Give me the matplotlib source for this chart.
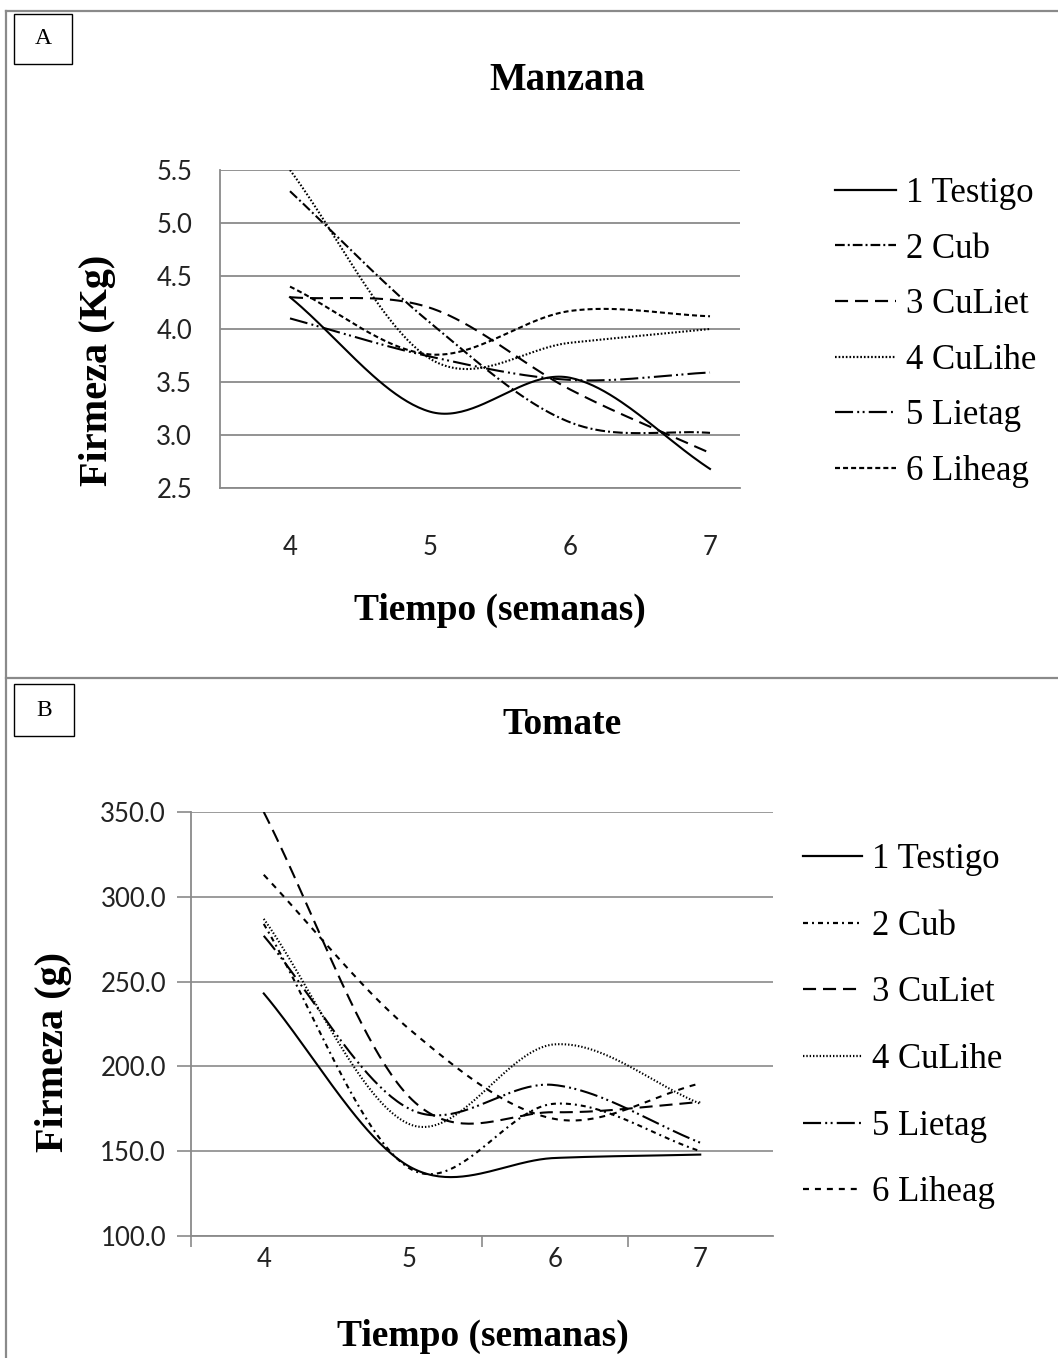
import numpy as np
import matplotlib
matplotlib.use("Agg")
import matplotlib.pyplot as plt
from matplotlib.patches import Rectangle
from matplotlib.lines import Line2D

plt.rcParams['lines.scale_dashes'] = False

# ---------------- data ----------------
weeks = [4, 5, 6, 7]
series_names = ["1 Testigo", "2 Cub", "3 CuLiet", "4 CuLihe", "5 Lietag", "6 Liheag"]

# Panel A: Manzana, firmeza (Kg)
manzana_testigo = [4.30, 3.22, 3.54, 2.68]
manzana_cub     = [5.30, 4.06, 3.12, 3.02]
manzana_culiet  = [4.30, 4.20, 3.43, 2.83]
manzana_culihe  = [5.50, 3.72, 3.87, 4.00]
manzana_lietag  = [4.10, 3.74, 3.52, 3.59]
manzana_liheag  = [4.40, 3.76, 4.17, 4.12]

# Panel B: Tomate, firmeza (g)
tomate_testigo = [243.0, 141.0, 146.0, 148.0]
tomate_cub     = [284.0, 140.0, 178.0, 150.0]
tomate_culiet  = [350.0, 182.0, 173.0, 179.0]
tomate_culihe  = [287.0, 166.0, 213.0, 178.0]
tomate_lietag  = [277.0, 175.0, 189.0, 155.0]
tomate_liheag  = [313.0, 222.0, 169.0, 190.0]

yticks_a = [2.5, 3.0, 3.5, 4.0, 4.5, 5.0, 5.5]
yticks_b = [100.0, 150.0, 200.0, 250.0, 300.0, 350.0]

# ---------------- styles ----------------
styles_a = [
    dict(ls='-'),
    dict(ls=(0, (7, 2.2, 1.4, 2.2))),
    dict(ls=(0, (9.4, 5))),
    dict(ls=(0, (1.2, 1.4))),
    dict(ls=(0, (13, 3, 1.4, 2.5, 1.4, 3))),
    dict(ls=(0, (3.6, 2.2))),
]
styles_b = [
    dict(ls='-'),
    dict(ls=(0, (3.6, 2.9, 1.4, 2.9))),
    dict(ls=(0, (9.4, 5))),
    dict(ls=(0, (1.0, 1.4))),
    dict(ls=(0, (13, 3, 1.4, 2.5, 1.4, 3))),
    dict(ls=(0, (4.3, 4.3))),
]

W, H = 1058, 1358
GRAY = '#8a8a8a'
SERIF = ['Liberation Serif', 'DejaVu Serif']
SANS = ['Lato', 'DejaVu Sans']


def smooth(x, y, n=50):
    """Excel-like smoothed line (Catmull-Rom / cubic Hermite)."""
    x = np.asarray(x, float)
    y = np.asarray(y, float)
    m = len(y)
    t = np.zeros(m)
    t[1:-1] = (y[2:] - y[:-2]) / 2.0
    t[0] = y[1] - y[0]
    t[-1] = y[-1] - y[-2]
    xs, ys = [], []
    s = np.linspace(0, 1, n)
    h00 = 2 * s**3 - 3 * s**2 + 1
    h10 = s**3 - 2 * s**2 + s
    h01 = -2 * s**3 + 3 * s**2
    h11 = s**3 - s**2
    for i in range(m - 1):
        xs.append(x[i] + s * (x[i + 1] - x[i]))
        ys.append(h00 * y[i] + h10 * t[i] + h01 * y[i + 1] + h11 * t[i + 1])
    return np.concatenate(xs), np.concatenate(ys)


def ax_rect(left, top, right, bottom):
    return [left / W, 1 - bottom / H, (right - left) / W, (bottom - top) / H]


fig = plt.figure(figsize=(W / 100, H / 100), dpi=100)

# frame lines
fig.add_artist(Line2D([6 / W, 6 / W], [0, 1 - 11 / H], color=GRAY, lw=1.6))
fig.add_artist(Line2D([6 / W, 1], [1 - 11 / H, 1 - 11 / H], color=GRAY, lw=1.6))
fig.add_artist(Line2D([6 / W, 1], [1 - 678 / H, 1 - 678 / H], color=GRAY, lw=1.6))

# panel letter boxes
for lab, (x0, y0, x1, y1) in [("A", (14, 14, 72, 64)), ("B", (14, 684, 74, 736))]:
    fig.add_artist(Rectangle((x0 / W, 1 - y1 / H), (x1 - x0) / W, (y1 - y0) / H,
                             transform=fig.transFigure, fill=False, ec='black', lw=1.0))
    fig.text((x0 + x1) / 2 / W, 1 - (y0 + y1) / 2 / H, lab, ha='center', va='center',
             family=SERIF, fontsize=17)

# ---------------- Panel A ----------------
# plot area from x=220 to x=740 px, category spacing 140 px
axA = fig.add_axes(ax_rect(220, 170, 740, 488))
data_a = [manzana_testigo, manzana_cub, manzana_culiet, manzana_culihe, manzana_lietag, manzana_liheag]
for name, vals, st in zip(series_names, data_a, styles_a):
    xs, ys = smooth(weeks, vals)
    axA.plot(xs, ys, color='black', lw=1.5, label=name, **st)
axA.set_xlim(3.5, 3.5 + 520 / 140)
axA.set_ylim(2.5, 5.5)
axA.set_yticks(yticks_a)
axA.set_yticklabels([f"{v:.1f}" for v in yticks_a])
axA.set_xticks(weeks)
axA.set_xticklabels([str(w) for w in weeks])
axA.tick_params(axis='both', length=0, labelsize=18.5, colors='#222222')
axA.tick_params(axis='y', pad=20)
axA.tick_params(axis='x', pad=34)
for lbl in axA.get_xticklabels() + axA.get_yticklabels():
    lbl.set_family(SANS)
axA.grid(axis='y', color=GRAY, lw=1.3)
axA.set_axisbelow(True)
for sp in ['top', 'right']:
    axA.spines[sp].set_visible(False)
for sp in ['left', 'bottom']:
    axA.spines[sp].set_color(GRAY)
    axA.spines[sp].set_linewidth(1.3)

fig.text(567 / W, 1 - 81 / H, "Manzana", ha='center', va='center', family=SERIF,
         fontsize=28, fontweight='bold')
fig.text(97 / W, 1 - 370 / H, "Firmeza (Kg)", ha='center', va='center', rotation=90,
         family=SERIF, fontsize=29, fontweight='bold')
fig.text(500 / W, 1 - 610 / H, "Tiempo (semanas)", ha='center', va='center', family=SERIF,
         fontsize=27, fontweight='bold')

legA = axA.legend(loc='upper left', bbox_to_anchor=(835 / W, 1 - 177 / H),
                  bbox_transform=fig.transFigure, frameon=False, borderpad=0,
                  borderaxespad=0, handlelength=1.75, handletextpad=0.3,
                  labelspacing=0.65, prop=dict(family=SERIF, size=25))
for h in legA.get_lines():
    h.set_linewidth(1.6)

# ---------------- Panel B ----------------
axB = fig.add_axes(ax_rect(191, 812, 773, 1236))
data_b = [tomate_testigo, tomate_cub, tomate_culiet, tomate_culihe, tomate_lietag, tomate_liheag]
for name, vals, st in zip(series_names, data_b, styles_b):
    xs, ys = smooth(weeks, vals)
    axB.plot(xs, ys, color='black', lw=1.5, label=name, **st)
axB.set_xlim(3.5, 7.5)
axB.set_ylim(100, 350)
axB.set_yticks(yticks_b)
axB.set_yticklabels([f"{v:.1f}" for v in yticks_b])
axB.set_xticks([3.5, 5.5, 6.5])
axB.set_xticklabels([])
axB.set_xticks(weeks, minor=True)
axB.set_xticklabels([str(w) for w in weeks], minor=True)
axB.tick_params(axis='x', which='major', length=8, width=1.2, color=GRAY, direction='out')
axB.tick_params(axis='x', which='minor', length=0, pad=8, labelsize=18.5, labelcolor='#222222')
axB.tick_params(axis='y', length=10, width=1.2, color=GRAY, direction='out', pad=8,
                labelsize=18.5, labelcolor='#222222')
for lbl in axB.get_xticklabels(minor=True) + axB.get_yticklabels():
    lbl.set_family(SANS)
axB.grid(axis='y', color=GRAY, lw=1.2)
axB.set_axisbelow(True)
for sp in ['top', 'right']:
    axB.spines[sp].set_visible(False)
for sp in ['left', 'bottom']:
    axB.spines[sp].set_color(GRAY)
    axB.spines[sp].set_linewidth(1.3)

fig.text(562 / W, 1 - 724 / H, "Tomate", ha='center', va='center', family=SERIF,
         fontsize=27, fontweight='bold')
fig.text(53 / W, 1 - 1052 / H, "Firmeza (g)", ha='center', va='center', rotation=90,
         family=SERIF, fontsize=29, fontweight='bold')
fig.text(483 / W, 1 - 1336 / H, "Tiempo (semanas)", ha='center', va='center', family=SERIF,
         fontsize=27, fontweight='bold')

legB = axB.legend(loc='upper left', bbox_to_anchor=(803 / W, 1 - 843 / H),
                  bbox_transform=fig.transFigure, frameon=False, borderpad=0,
                  borderaxespad=0, handlelength=1.7, handletextpad=0.3,
                  labelspacing=0.97, prop=dict(family=SERIF, size=25))
for h in legB.get_lines():
    h.set_linewidth(1.6)

fig.savefig("out.png", dpi=100)
